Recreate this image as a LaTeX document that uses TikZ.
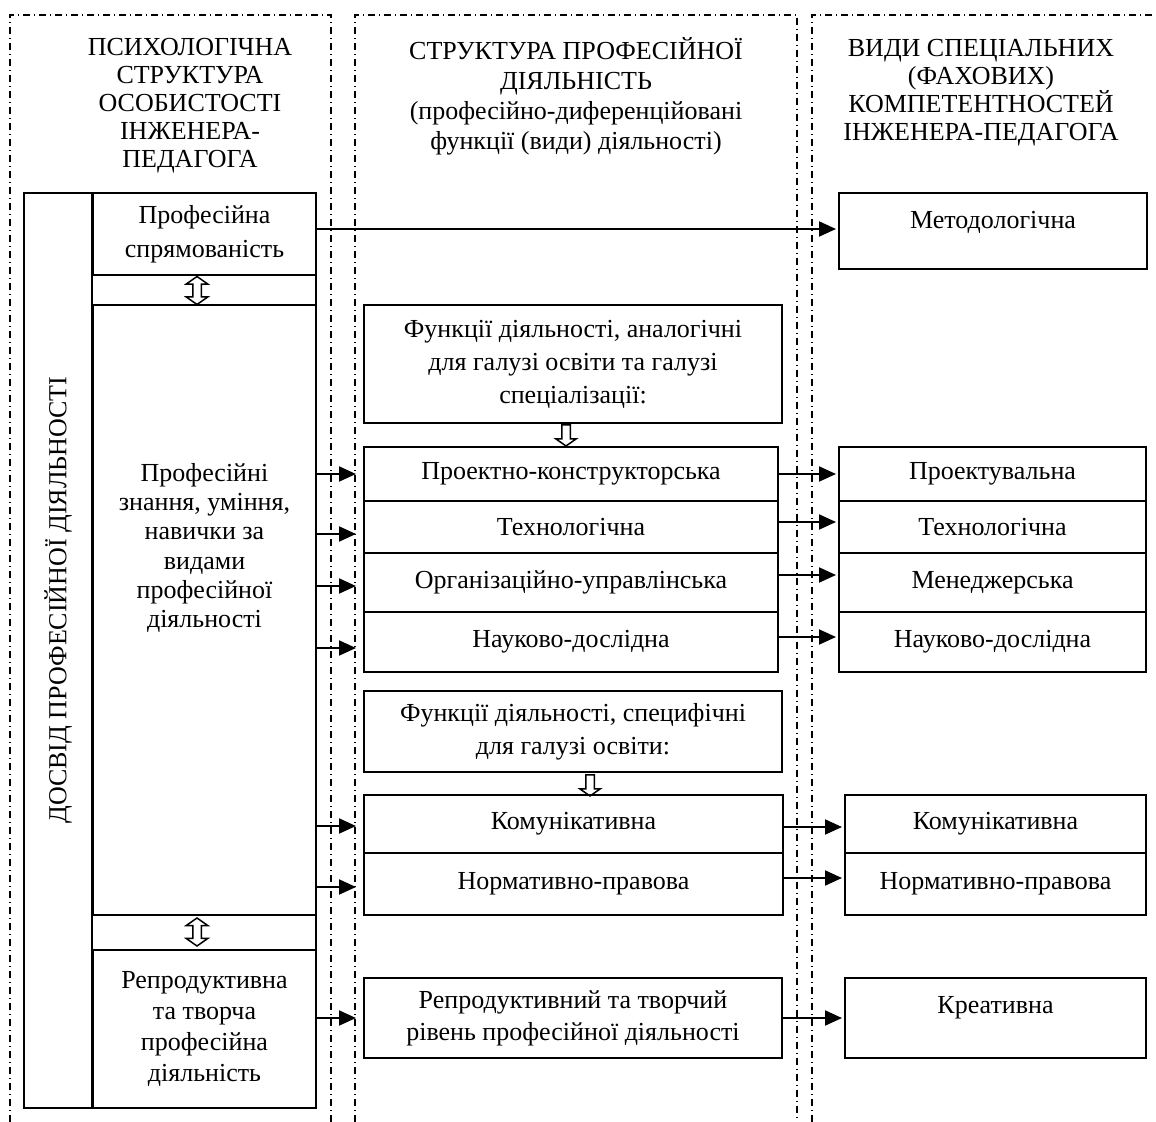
\documentclass[tikz,border=0pt]{standalone}
\usepackage{fontspec}
\setmainfont{Liberation Serif}
\usetikzlibrary{arrows.meta,shapes.arrows}

\begin{document}
\begin{tikzpicture}[x=0.5pt,y=-0.5pt,
  caja/.style={draw,line width=1pt,align=center,inner sep=0pt,font=\fontsize{13}{15.5}\selectfont},
  titulo/.style={align=center,inner sep=0pt},
  flecha/.style={line width=1pt,-{Triangle[length=8.5pt,width=7.5pt]}},
  marco/.style={line width=0.7pt,dash pattern=on 3.5pt off 2pt on 0.5pt off 2pt},
  hueca/.style={draw,line width=0.75pt,single arrow,rotate=-90,minimum height=10.5pt,
    inner sep=1.75pt,single arrow head extend=3pt,single arrow tip angle=110},
  doble/.style={draw,line width=0.75pt,double arrow,rotate=90,minimum height=14pt,
    inner sep=1.75pt,double arrow head extend=3.25pt,double arrow tip angle=110}]
\useasboundingbox (0,0) rectangle (1156,1122);
% columnas
\draw[marco] (10,1122) -- (10,15) -- (331,15) -- (331,1122);
\draw[marco] (355,1122) -- (355,15) -- (797,15) -- (797,1122);
\draw[marco] (812,1122) -- (812,15) -- (1156,15);
\node[titulo,font=\fontsize{13}{14}\selectfont] (tit1) at (190,106)
  {ПСИХОЛОГІЧНА\\СТРУКТУРА\\ОСОБИСТОСТІ\\ІНЖЕНЕРА-\\ПЕДАГОГА};
\node[titulo,font=\fontsize{13}{15}\selectfont] (tit2) at (576,96)
  {СТРУКТУРА ПРОФЕСІЙНОЇ\\ДІЯЛЬНІСТЬ\\(професійно-диференційовані\\функції (види) діяльності)};
\node[titulo,font=\fontsize{13}{14}\selectfont] (tit3) at (981,93)
  {ВИДИ СПЕЦІАЛЬНИХ\\(ФАХОВИХ)\\КОМПЕТЕНТНОСТЕЙ\\ІНЖЕНЕРА-ПЕДАГОГА};
% columna izquierda
\node[caja,minimum width=146pt,minimum height=457.5pt] (exp) at (170,650.5) {};
\node[rotate=90,inner sep=0pt,font=\fontsize{13}{15}\selectfont] (dosvid) at (58,600)
  {ДОСВІД ПРОФЕСІЙНОЇ ДІЯЛЬНОСТІ};
\node[caja,minimum width=111.5pt,minimum height=41pt,font=\fontsize{13}{17}\selectfont] (napr) at (204.5,234)
  {Професійна\\спрямованість};
\node[caja,minimum width=111.5pt,minimum height=305pt,font=\fontsize{13}{14.6}\selectfont,text height=20pt] (know) at (204.5,610)
  {Професійні\\знання, уміння,\\навички за\\видами\\професійної\\діяльності};
\node[caja,minimum width=111.5pt,minimum height=79pt] (repr) at (204.5,1029)
  {Репродуктивна\\та творча\\професійна\\діяльність};
\draw[line width=1pt] (napr.north west) -- (repr.south west);
\node[doble] (d1) at (197,290.5) {};
\node[doble] (d2) at (197,932) {};
% columna central
\node[caja,minimum width=209pt,minimum height=59pt,font=\fontsize{13}{16.5}\selectfont] (an) at (573,364)
  {Функції діяльності, аналогічні\\для галузі освіти та галузі\\спеціалізації:};
\node[hueca] (h1) at (566,434) {};
\foreach \Nom/\Yc/\Alt/\Texto in
{pk/474/27/Проектно-конструкторська,tech/527/26/Технологічна,
 org/582.5/29.5/Організаційно-управлінська,nd/642/30/Науково-дослідна}
{
	\node[caja,minimum width=207pt,minimum height=\Alt pt] (\Nom) at (571,\Yc) {\Texto};
}
\node[caja,minimum width=209pt,minimum height=40.5pt,font=\fontsize{13}{16.5}\selectfont] (sp) at (573,731.5)
  {Функції діяльності, специфічні\\для галузі освіти:};
\node[hueca] (h2) at (590,784) {};
\node[caja,minimum width=209.5pt,minimum height=29pt] (kom) at (573.5,824) {Комунікативна};
\node[caja,minimum width=209.5pt,minimum height=31pt] (norm) at (573.5,884) {Нормативно-правова};
\node[caja,minimum width=209pt,minimum height=40pt,font=\fontsize{13}{16}\selectfont] (rt) at (573,1018)
  {Репродуктивний та творчий\\рівень професійної діяльності};
% columna derecha
\node[caja,minimum width=154pt,minimum height=38pt,text depth=11pt] (met) at (993,231) {Методологічна};
\foreach \Nom/\Yc/\Alt/\Texto in
{pr/474/27/Проектувальна,tr/527/26/Технологічна,
 men/582.5/29.5/Менеджерська,nd2/642/30/Науково-дослідна}
{
	\node[caja,minimum width=153.5pt,minimum height=\Alt pt] (\Nom) at (992.5,\Yc) {\Texto};
}
\node[caja,minimum width=150.5pt,minimum height=29pt] (kom2) at (995.5,824) {Комунікативна};
\node[caja,minimum width=150.5pt,minimum height=31pt] (norm2) at (995.5,884) {Нормативно-правова};
\node[caja,minimum width=150.5pt,minimum height=40pt,text depth=13pt] (kre) at (995.5,1018) {Креативна};
% flechas
\draw[flecha,shorten >=1pt] ([yshift=2.5pt]napr.east) -- ([yshift=2.5pt]napr.east -| met.west);
\foreach \Org/\Des/\Dy in
{know/pk/0,know/tech/7,know/org/3.5,know/nd/6,know/kom/2,know/norm/3,repr/rt/0}
{
	\draw[flecha] ([yshift=-\Dy*0.5pt]\Org.east |- \Des.west)
		-- ([xshift=-3.5pt,yshift=-\Dy*0.5pt]\Des.west);
}
\foreach \Org/\Des/\Dy in
{pk/pr/0,tech/tr/-5,org/men/-7.5,nd/nd2/-5,kom/kom2/3,norm/norm2/-6,rt/kre/0}
{
	\draw[flecha,shorten >=1pt] ([yshift=-\Dy*0.5pt]\Org.east)
		-- ([yshift=-\Dy*0.5pt]\Org.east -| \Des.west);
}
\end{tikzpicture}
\end{document}
